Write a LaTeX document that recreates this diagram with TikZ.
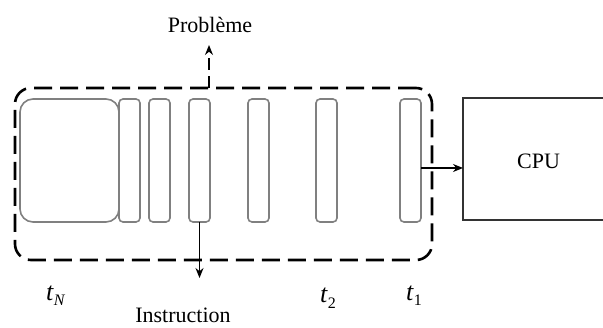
\documentclass[tikz,border=0pt]{standalone}
\usepackage{fontspec}
\setmainfont{Liberation Serif}
\usetikzlibrary{arrows.meta, positioning}
\definecolor{SlotGray}{HTML}{808080}
\newcommand{\tlabel}[1]{\textit{t}\raisebox{-5pt}{\fontsize{16}{18}\selectfont #1}}

\begin{document}
\begin{tikzpicture}[
        x=1pt, y=1pt,
        font=\fontsize{22}{26}\selectfont,
        slot/.style={rectangle, draw=SlotGray, line width=1.6pt, rounded corners=4pt, minimum width=21pt, minimum height=123pt, inner sep=0pt, outer sep=0pt},
        bigslot/.style={slot, minimum width=99pt, rounded corners=13pt},
        queuebox/.style={rectangle, draw=black, line width=2.6pt, dash pattern=on 18pt off 8pt, rounded corners=16pt, minimum width=417pt, minimum height=172pt, outer sep=0pt},
        cpubox/.style={rectangle, draw=black!80, line width=1.2pt, minimum width=151pt, minimum height=122pt, outer sep=0pt},
        connector/.style={draw=black, line width=1.4pt, -{Stealth[length=10pt, width=8pt]}},
        tlab/.style={inner sep=0pt, font=\fontsize{26}{30}\selectfont}
    ]
        \clip (0,0) rectangle (603,327);

        % Nodes
        \node (queue) [queuebox] at (223.5,153) {};
        \node (buf) [bigslot] at (69.5,166.5) {};
        \node (s1) [slot, right=0pt of buf] {};
        \node (s2) [slot, right=9pt of s1] {};
        \node (s3) [slot, right=19pt of s2] {};
        \node (s4) [slot, right=38pt of s3] {};
        \node (s5) [slot, right=47pt of s4] {};
        \node (s6) [slot, right=63pt of s5] {};
        \node (cpu) [cpubox] at (538.5,168) {};
        \node at (538.5,166) {CPU};

        \node (prob) [anchor=base, inner sep=0pt] at (210,294) {Problème};
        \node (instr) [inner sep=0pt] at (183,12) {Instruction};
        \coordinate (probtip) at (209,282);
        \coordinate (instrtip) at (s3 |- 0,49);

        % Connectors
        \draw [connector, dash pattern=on 12pt off 6pt] (queue.north -| probtip) -- (probtip);
        \draw [connector] (s3.south) -- (instrtip);
        \draw [connector] ([yshift=-7.5pt]s6.east) -- ([yshift=-7.5pt]s6.east -| cpu.west);

        % Labels
        \node (tn) [tlab, anchor=base west] at (46,27) {\tlabel{\textit{N}}};
        \node (t2) [tlab, anchor=base west] at (320,24) {\tlabel{2}};
        \node (t1) [tlab, anchor=base west] at (406,27) {\tlabel{1}};
    \end{tikzpicture}
\end{document}
